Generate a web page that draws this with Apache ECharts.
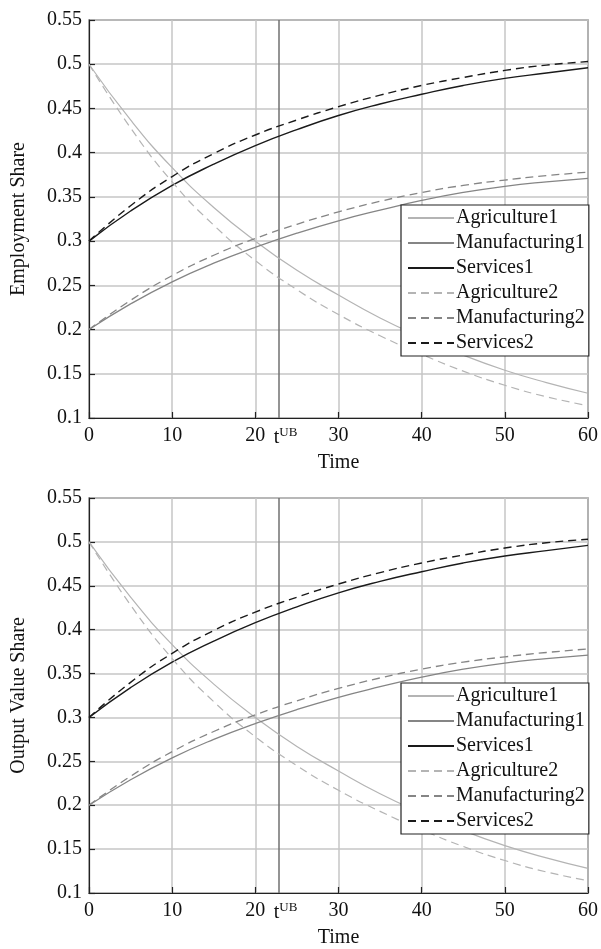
<!DOCTYPE html>
<html>
<head>
<meta charset="utf-8">
<script src="https://cdn.jsdelivr.net/npm/echarts@6/dist/echarts.min.js"></script>
<style>
html,body{margin:0;padding:0;background:#fff;}
#c{width:601px;height:949px;}
</style>
</head>
<body>
<div id="c"></div>
<script>
// ---- data ----
var tValues = [0, 5, 10, 15, 20, 25, 30, 35, 40, 45, 50, 55, 60];
var tUB = 22.8;
var xTickValues = [0, 10, 20, 22.8, 30, 40, 50, 60];
var yTickMin = 0.1, yTickMax = 0.55, yTickStep = 0.05;

// Employment share (top panel)
var empAgriculture1   = [0.500, 0.437, 0.383, 0.338, 0.300, 0.267, 0.239, 0.213, 0.191, 0.171, 0.154, 0.140, 0.128];
var empManufacturing1 = [0.200, 0.229, 0.254, 0.275, 0.293, 0.309, 0.323, 0.335, 0.346, 0.355, 0.362, 0.367, 0.371];
var empServices1      = [0.300, 0.334, 0.363, 0.387, 0.408, 0.426, 0.442, 0.455, 0.466, 0.476, 0.484, 0.490, 0.496];
var empAgriculture2   = [0.500, 0.428, 0.367, 0.318, 0.278, 0.245, 0.217, 0.193, 0.172, 0.153, 0.137, 0.124, 0.114];
var empManufacturing2 = [0.200, 0.233, 0.261, 0.284, 0.303, 0.319, 0.333, 0.345, 0.355, 0.363, 0.369, 0.374, 0.378];
var empServices2      = [0.300, 0.340, 0.373, 0.399, 0.420, 0.437, 0.452, 0.465, 0.476, 0.485, 0.493, 0.499, 0.503];

// Output value share (bottom panel)
var outAgriculture1   = [0.500, 0.437, 0.383, 0.338, 0.300, 0.267, 0.239, 0.213, 0.191, 0.171, 0.154, 0.140, 0.128];
var outManufacturing1 = [0.200, 0.229, 0.254, 0.275, 0.293, 0.309, 0.323, 0.335, 0.346, 0.355, 0.362, 0.367, 0.371];
var outServices1      = [0.300, 0.334, 0.363, 0.387, 0.408, 0.426, 0.442, 0.455, 0.466, 0.476, 0.484, 0.490, 0.496];
var outAgriculture2   = [0.500, 0.428, 0.367, 0.318, 0.278, 0.245, 0.217, 0.193, 0.172, 0.153, 0.137, 0.124, 0.114];
var outManufacturing2 = [0.200, 0.233, 0.261, 0.284, 0.303, 0.319, 0.333, 0.345, 0.355, 0.363, 0.369, 0.374, 0.378];
var outServices2      = [0.300, 0.340, 0.373, 0.399, 0.420, 0.437, 0.452, 0.465, 0.476, 0.485, 0.493, 0.499, 0.503];

var seriesNames = ['Agriculture1', 'Manufacturing1', 'Services1', 'Agriculture2', 'Manufacturing2', 'Services2'];
var yNames = ['Employment Share', 'Output Value Share'];
var xName = 'Time';

// ---- styles ----
var FONT = 'Liberation Serif';
var styles = [
  {color: '#b4b4b4', type: 'solid', width: 1.2},
  {color: '#858585', type: 'solid', width: 1.3},
  {color: '#1a1a1a', type: 'solid', width: 1.4},
  {color: '#b4b4b4', type: [8, 5], width: 1.2},
  {color: '#858585', type: [8, 5], width: 1.3},
  {color: '#1a1a1a', type: [8, 5], width: 1.4}
];

function pairs(arr) { return tValues.map(function (t, i) { return [t, arr[i]]; }); }

var panels = [
  [empAgriculture1, empManufacturing1, empServices1, empAgriculture2, empManufacturing2, empServices2],
  [outAgriculture1, outManufacturing1, outServices1, outAgriculture2, outManufacturing2, outServices2]
];
var gridTops = [20, 498];
var legendTops = [205, 683];

var option = {
  animation: false,
  backgroundColor: '#fff',
  textStyle: {fontFamily: FONT},
  grid: [], xAxis: [], yAxis: [], legend: [], series: []
};

panels.forEach(function (data, p) {
  option.grid.push({left: 89, top: gridTops[p], width: 499, height: 398, show: true,
    borderColor: '#222', borderWidth: 1.2, backgroundColor: '#fff'});
  option.xAxis.push({
    type: 'value', gridIndex: p, min: 0, max: 60, interval: 10,
    name: xName, nameLocation: 'middle', nameGap: 35,
    nameTextStyle: {color: '#111', fontSize: 20, fontFamily: FONT},
    axisLine: {show: true, onZero: false, lineStyle: {color: '#222', width: 1.2}},
    axisTick: {show: true, inside: true, length: 6, lineStyle: {color: '#222', width: 1.2}},
    splitLine: {show: true, lineStyle: {color: '#c6c6c6', width: 1.5}},
    axisLabel: {
      color: '#111', fontSize: 20, fontFamily: FONT, margin: 8,
      customValues: xTickValues,
      formatter: function (v) {
        if (Math.abs(v - tUB) < 1e-6) return '{t|t}{s|UB}';
        return String(v);
      },
      rich: {
        t: {fontSize: 20, fontFamily: FONT, color: '#111', padding: [0, 0, 0, 14], lineHeight: 22, verticalAlign: 'bottom'},
        s: {fontSize: 13, fontFamily: FONT, color: '#111', lineHeight: 13, verticalAlign: 'top'}
      }
    }
  });
  option.yAxis.push({
    type: 'value', gridIndex: p, min: yTickMin, max: yTickMax, interval: yTickStep,
    name: yNames[p], nameLocation: 'middle', nameGap: 60,
    nameTextStyle: {color: '#111', fontSize: 20, fontFamily: FONT},
    axisLine: {show: true, onZero: false, lineStyle: {color: '#222', width: 1.2}},
    axisTick: {show: true, inside: true, length: 6, lineStyle: {color: '#222', width: 1.2}},
    splitLine: {show: true, lineStyle: {color: '#c6c6c6', width: 1.5}},
    axisLabel: {color: '#111', fontSize: 20, fontFamily: FONT, margin: 7}
  });
  option.legend.push({
    orient: 'vertical', left: 401, top: legendTops[p],
    data: seriesNames.slice(),
    itemWidth: 46, itemHeight: 14, itemGap: 5,
    padding: [3, 4, 3, 6],
    itemStyle: {opacity: 0},
    backgroundColor: '#fff', borderColor: '#222', borderWidth: 1.2, borderRadius: 0,
    textStyle: {color: '#111', fontSize: 20, fontFamily: FONT, lineHeight: 20, padding: [0, 0, 0, -3]},
    selectedMode: false
  });
  data.forEach(function (arr, k) {
    var s = {
      name: seriesNames[k], type: 'line', xAxisIndex: p, yAxisIndex: p,
      data: pairs(arr), symbol: 'none', smooth: 0.5,
      lineStyle: {color: styles[k].color, type: styles[k].type, width: styles[k].width},
      itemStyle: {color: styles[k].color},
      z: 3
    };
    if (k === 0) {
      s.markLine = {
        silent: true, symbol: 'none', animation: false,
        label: {show: false},
        lineStyle: {color: '#707070', type: 'solid', width: 1.5},
        data: [{xAxis: tUB}],
        z: 2
      };
    }
    option.series.push(s);
  });
});

var chart = echarts.init(document.getElementById('c'), null, {renderer: 'canvas'});
chart.setOption(option);
</script>
</body>
</html>
